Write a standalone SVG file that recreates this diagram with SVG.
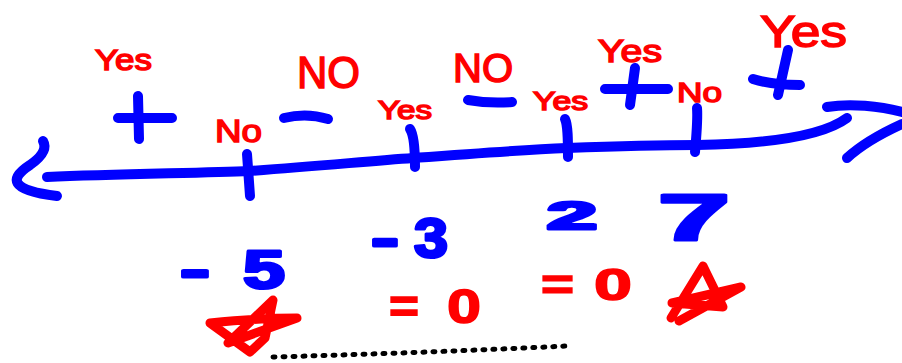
<svg xmlns="http://www.w3.org/2000/svg" width="902" height="363" viewBox="0 0 902 363">
<style>
.b{fill:none;stroke:#0000ff;stroke-width:10;stroke-linecap:round;stroke-linejoin:round}
.rs{fill:none;stroke:#ff0000;stroke-width:9;stroke-linecap:round;stroke-linejoin:round}
.rt{fill:#ff0000;stroke:#ff0000;stroke-width:1.5;font-family:"Liberation Sans",Arial,sans-serif}
.bt{fill:#0000ff;stroke:#0000ff;stroke-width:3;stroke-linejoin:round;font-family:"Liberation Sans",Arial,sans-serif;font-weight:bold}
</style>
<rect width="902" height="363" fill="#ffffff"/>
<g id="number-line">
<path class="b" d="M47,177 C120,174 200,173 250,171 C320,166 370,161 413,158 C480,153 520,150 567,148 C620,146 660,145 697,145 C760,144 820,138 847,118"/>
<path class="b" d="M43,141 C48,150 40,158 30,165 C10,178 8,190 57,196"/>
<path class="b" d="M827,107 C850,103 880,106 902,112"/>
<path class="b" d="M902,124 C880,134 860,146 847,158"/>
</g>
<g id="ticks">
<path class="b" d="M247,154 L250,196"/>
<path class="b" d="M410,129 C414,135 415,150 415,167"/>
<path class="b" d="M565,119 C568,125 568,140 568,157"/>
<path class="b" d="M697,108 C698,120 696,140 695,152"/>
</g>
<g id="signs">
<path class="b" d="M118,118 L172,118 M138,96 L139,139"/>
<path class="b" d="M284,118 C300,114 315,115 328,119"/>
<path class="b" d="M468,100 C485,103 500,103 512,102"/>
<path class="b" d="M605,89 L668,89 M635,68 L630,105"/>
<path class="b" d="M753,79 C765,83 780,85 800,85 M788,50 L778,95"/>
</g>
<g id="labels-top">
<text class="rt" x="95" y="70" font-size="30" textLength="57" lengthAdjust="spacingAndGlyphs">Yes</text>
<text class="rt" x="297" y="88" font-size="44" textLength="63" lengthAdjust="spacingAndGlyphs">NO</text>
<text class="rt" x="215" y="142" font-size="32" textLength="47" lengthAdjust="spacingAndGlyphs">No</text>
<text class="rt" x="378" y="119" font-size="26" textLength="54" lengthAdjust="spacingAndGlyphs">Yes</text>
<text class="rt" x="453" y="82" font-size="40" textLength="60" lengthAdjust="spacingAndGlyphs">NO</text>
<text class="rt" x="533" y="110" font-size="26" textLength="55" lengthAdjust="spacingAndGlyphs">Yes</text>
<text class="rt" x="598" y="62" font-size="32" textLength="64" lengthAdjust="spacingAndGlyphs">Yes</text>
<text class="rt" x="677" y="102" font-size="28" textLength="45" lengthAdjust="spacingAndGlyphs">No</text>
<text class="rt" x="760" y="47" font-size="44" textLength="87" lengthAdjust="spacingAndGlyphs">Yes</text>
</g>
<g id="numbers">
<text class="bt" y="288" font-size="54"><tspan x="180" textLength="30" lengthAdjust="spacingAndGlyphs">-</tspan><tspan x="243" textLength="42" lengthAdjust="spacingAndGlyphs">5</tspan></text>
<text class="bt" y="257" font-size="56"><tspan x="371" textLength="28" lengthAdjust="spacingAndGlyphs">-</tspan><tspan x="414" textLength="34" lengthAdjust="spacingAndGlyphs">3</tspan></text>
<text class="bt" x="547" y="229" font-size="38" textLength="50" lengthAdjust="spacingAndGlyphs">2</text>
<text class="bt" x="658" y="240" font-size="64" textLength="72" lengthAdjust="spacingAndGlyphs">7</text>
</g>
<g id="results">
<text class="rt" y="323" font-size="48" font-weight="bold"><tspan x="389" textLength="30" lengthAdjust="spacingAndGlyphs">=</tspan><tspan x="447" textLength="34" lengthAdjust="spacingAndGlyphs">0</tspan></text>
<text class="rt" y="300" font-size="44" font-weight="bold"><tspan x="541" textLength="33" lengthAdjust="spacingAndGlyphs">=</tspan><tspan x="594" textLength="38" lengthAdjust="spacingAndGlyphs">0</tspan></text>
<path class="rs" d="M210,323 C240,320 270,318 297,318 L228,343 L273,300 L265,338 L250,352 L210,323"/>
<path class="rs" d="M671,318 L703,266 L723,307 L672,303 L741,287 L679,321"/>
</g>
<g id="dotted">
<path d="M273,357 Q420,353 567,346" fill="none" stroke="#000" stroke-width="5" stroke-linecap="round" stroke-dasharray="2 8"/>
</g>
</svg>
